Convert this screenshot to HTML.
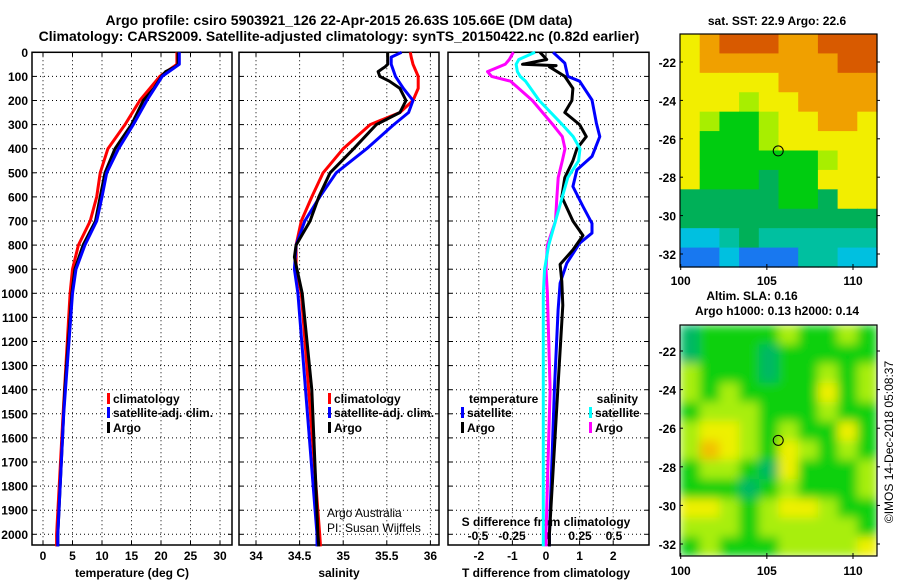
<!DOCTYPE html>
<html><head><meta charset="utf-8"><style>
html,body{margin:0;padding:0;background:#fff;}
svg{display:block;font-family:"Liberation Sans",Arial,sans-serif;}
.t{font-weight:bold;font-size:12px;fill:#000;}
.ttl{font-weight:bold;font-size:14px;fill:#000;}
</style></head><body>
<svg id="chart" width="900" height="580" viewBox="0 0 900 580">
<defs><filter id="blur" x="0" y="0" width="1" height="1"><feGaussianBlur stdDeviation="5"/></filter>
<clipPath id="clipm2"><rect x="680" y="325" width="197" height="231"/></clipPath></defs>
<text class="ttl" x="339" y="25" text-anchor="middle">Argo profile: csiro 5903921_126 22-Apr-2015 26.63S 105.66E (DM data)</text>
<text class="ttl" x="339" y="41" text-anchor="middle">Climatology: CARS2009. Satellite-adjusted climatology: synTS_20150422.nc (0.82d earlier)</text>
<g id="g"></g>
</svg>
<script>
// ---- depth levels & profile data ----
const depthT=[0,50,60,80,100,150,200,300,400,500,600,700,800,900,1000,1400,2000,2050];
const argoT=[22.9,22.9,22.4,20.8,20.1,18.8,17,15,12.2,10.5,9.7,8.9,6.8,5.4,4.9,3.7,2.5,2.5];
const depthC=[0,50,100,200,300,400,500,600,700,800,900,1000,1500,2000,2050];
const climT=[22.7,22.7,19.8,16.4,13.9,11,9.7,9.1,8,6,5,4.6,3.4,2.3,2.3];
const satT=[23.1,23.1,20.2,17.6,15.3,12.8,10.8,10,9.1,7.1,5.6,5,3.5,2.5,2.5];
const depthS=[0,50,60,80,100,120,150,200,250,300,400,500,600,700,800,850,900,1000,1400,2000,2050];
const argoS=[35.51,35.51,35.48,35.4,35.42,35.53,35.65,35.72,35.65,35.38,35.12,34.85,34.72,34.62,34.46,34.44,34.47,34.53,34.64,34.71,34.72];
const depthSC=[0,20,50,100,150,200,250,300,400,500,600,700,800,900,1000,2000,2050];
const climS=[35.77,35.78,35.8,35.86,35.86,35.8,35.65,35.31,35.0,34.77,34.64,34.52,34.46,34.46,34.52,34.73,34.74];
const satS=[35.67,35.55,35.55,35.6,35.69,35.8,35.75,35.58,35.27,34.92,34.73,34.56,34.46,34.44,34.48,34.7,34.7];
const depthDT=[0,45,100,120,198,294,350,432,488,557,640,710,750,792,875,958,1069,1400,2000,2050];
const satDT=[0.21,0.56,0.65,1.0,1.37,1.5,1.6,1.37,0.92,0.8,1.1,1.37,1.37,1.0,0.62,0.42,0.36,0.25,0.1,0.1];
const depthDA=[0,30,50,55,60,100,150,200,250,300,350,400,450,520,600,700,760,820,880,950,1050,1400,2000,2050];
const argoDT=[-0.18,0.02,-0.7,0.3,0.1,0.56,0.8,0.77,0.56,1.0,1.2,0.92,0.8,0.56,0.47,0.8,1.1,0.8,0.42,0.47,0.5,0.35,0.1,0.1];
const depthDS=[0,30,50,80,100,120,200,300,350,400,450,520,600,700,800,900,1000,1400,2000,2050];
const argoDS=[-0.24,-0.27,-0.3,-0.43,-0.4,-0.26,-0.1,0.05,0.12,0.14,0.12,0.09,0.08,0.07,0.01,0.0,0.01,0.03,0.0,0.0];
const satDS=[-0.08,-0.2,-0.22,-0.21,-0.19,-0.15,-0.05,0.12,0.2,0.25,0.24,0.16,0.12,0.07,0.02,-0.01,-0.02,-0.02,-0.02,-0.02];
const depthTicks=[0,100,200,300,400,500,600,700,800,900,1000,1100,1200,1300,1400,1500,1600,1700,1800,1900,2000];
const tTicks=[0,5,10,15,20,25,30];
const sTicks=[34,34.5,35,35.5,36];
const sTickLabels=["34","34.5","35","35.5","36"];
const dTTicks=[-2,-1,0,1,2];
const dSTicks=[-0.5,-0.25,0,0.25,0.5];
const dSTickLabels=["-0.5","-0.25","0","0.25","0.5"];
const latTicks=[-22,-24,-26,-28,-30,-32];
const lonTicks=[100,105,110];
const sstGrid=["YORRROORRR","YOOOOOOORR","YYYYYOOOOO","YYYLYYOOOO","YLGGLYYOOY","YGGGLYYYYY","YGGGGGGLYY","YGGGDGGYYY","DDDDDGGDYY","DDDDDDDDDD","CCTDTTTTTT","BBCBBBTTCC"];
const slaGrid=["DGGGGLGGLG","DGGGDGGGGG","LGGGDGGLGL","LGLGGGGYGL","GLLLGGGLGG","LYYLGLGGYG","LOYLGYLGLG","GLLGDYGGGL","GGGDGLGGGL","YYLGLYYLGG","LLLGLLLLLG","GLGGGLLLLY"];

const NS="http://www.w3.org/2000/svg";
const G=document.getElementById('g');
function el(tag,attrs,parent){const e=document.createElementNS(NS,tag);for(const k in attrs)e.setAttribute(k,attrs[k]);(parent||G).appendChild(e);return e;}
const Y0=52.3,KY=0.241,YB=545;
const yD=d=>Y0+d*KY;
const xT=t=>43+t*5.9;
const xS=s=>256+(s-34)*87.2;
const xDT=v=>546+v*33.6;
const xDS=v=>546+v*136;
const panels=[{x0:32,x1:232,name:'temperature-panel',gx:tTicks.map(xT)},{x0:239,x1:439,name:'salinity-panel',gx:sTicks.map(xS)},{x0:448,x1:649,name:'difference-panel',gx:dTTicks.map(xDT)}];
panels.forEach(p=>{
  const g=el('g',{});
  
  
  depthTicks.forEach(d=>{const y=yD(d);if(d>0)el('line',{x1:p.x0,x2:p.x1,y1:y,y2:y,stroke:'#000','stroke-width':1,'stroke-dasharray':'1,3'},g);
    el('line',{x1:p.x0,x2:p.x0+4,y1:y,y2:y,stroke:'#000'},g);el('line',{x1:p.x1-4,x2:p.x1,y1:y,y2:y,stroke:'#000'},g);});
  p.gx.forEach(x=>{el('line',{x1:x,x2:x,y1:Y0,y2:YB,stroke:'#000','stroke-width':1,'stroke-dasharray':'1,3'},g);
    el('line',{x1:x,x2:x,y1:YB-4,y2:YB,stroke:'#000'},g);el('line',{x1:x,x2:x,y1:Y0,y2:Y0+4,stroke:'#000'},g);});
  el('rect',{x:p.x0,y:Y0,width:p.x1-p.x0,height:YB-Y0,fill:'none',stroke:'#000','stroke-width':1.5},g);
});
depthTicks.forEach(d=>{const t=el('text',{x:28,y:yD(d)+4.5,'text-anchor':'end',class:'t'});t.textContent=d;
  
  });
function xlabels(vals,labels,fx,y,nm){vals.forEach((v,i)=>{const t=el('text',{x:fx(v),y:y,'text-anchor':'middle',class:'t'});t.textContent=labels[i];
  
  });}
xlabels(tTicks,tTicks.map(String),xT,560,'temperature-tick-label');
xlabels(sTicks,sTickLabels,xS,560,'salinity-tick-label');
xlabels(dTTicks,dTTicks.map(String),xDT,560,'t-diff-tick-label');
xlabels(dSTicks,dSTickLabels,xDS,540,'s-diff-tick-label');
function txt(x,y,s,nm,anchor,cls,extra){const t=el('text',Object.assign({x:x,y:y,'text-anchor':anchor||'start',class:cls||'t'},extra||{}));t.textContent=s;
  
  return t;}
txt(132,577,'temperature (deg C)','x-axis-title-temperature','middle');
txt(339,577,'salinity','x-axis-title-salinity','middle');
txt(546,577,'T difference from climatology','x-axis-title-t-diff','middle');
txt(546,526,'S difference from climatology','s-diff-axis-title','middle');
txt(327,517,'Argo Australia','credit-line-1','start','',{style:'font-weight:normal;font-size:12px'});
txt(327,532,'PI: Susan Wijffels','credit-line-2','start','',{style:'font-weight:normal;font-size:12px'});
function line(ds,vs,fx,color,nm){const pts=ds.map((d,i)=>fx(vs[i]).toFixed(1)+','+yD(d).toFixed(1)).join(' ');
  const p=el('polyline',{points:pts,fill:'none',stroke:color,'stroke-width':3,'stroke-linejoin':'round'});
  
  }
line(depthC,climT,xT,'#f00','temp-climatology-line');
line(depthT,argoT,xT,'#000','temp-argo-line');
line(depthC,satT,xT,'#00f','temp-satellite-line');
line(depthSC,climS,xS,'#f00','sal-climatology-line');
line(depthSC,satS,xS,'#00f','sal-satellite-line');
line(depthS,argoS,xS,'#000','sal-argo-line');
line(depthDT,satDT,xDT,'#00f','tdiff-satellite-line');
line(depthDA,argoDT,xDT,'#000','tdiff-argo-line');
line(depthDS,argoDS,xDS,'#f0f','sdiff-argo-line');
line(depthDS,satDS,xDS,'#0ff','sdiff-satellite-line');
function leg(x,y,c,s,nm){const r=el('rect',{x:x,y:y-10,width:3,height:11,fill:c});
  
  
  txt(x+6,y,s,nm);}
leg(107,403,'#f00','climatology','legend-temp-climatology');
leg(107,417,'#00f','satellite-adj. clim.','legend-temp-satellite');
leg(107,432,'#000','Argo','legend-temp-argo');
leg(328,403,'#f00','climatology','legend-sal-climatology');
leg(328,417,'#00f','satellite-adj. clim.','legend-sal-satellite');
leg(328,432,'#000','Argo','legend-sal-argo');
txt(469,403,'temperature','legend-temperature-header');
leg(461,417,'#00f','satellite','legend-tdiff-satellite');
leg(461,432,'#000','Argo','legend-tdiff-argo');
txt(638,403,'salinity','legend-salinity-header','end');
leg(589,417,'#0ff','satellite','legend-sdiff-satellite');
leg(589,432,'#f0f','Argo','legend-sdiff-argo');
// ---- maps ----
const sstCol={R:'#d85a00',O:'#f0a000',Y:'#f2ee00',L:'#a8ee00',G:'#00cc10',D:'#00b058',T:'#00c0a0',C:'#00c0e0',B:'#1878f0'};
const slaCol={D:'#00b864',G:'#10d010',L:'#a8ee10',Y:'#eef000',O:'#f2c000'};
function map(grid,cols,x0,y0,w,h,nm,blur){const g=el('g',{});
  
  
  const inner=el('g',blur?{filter:'url(#blur)'}:{},g);
  const nr=grid.length,nc=grid[0].length,cw=w/nc,ch=h/nr;
  grid.forEach((row,r)=>[...row].forEach((c,k)=>{el('rect',{x:x0+k*cw,y:y0+r*ch,width:cw+0.6,height:ch+0.6,fill:cols[c]},inner);}));
  return g;}
function mapAxes(x0,y0,w,h,ly0,ly1,lonY,nm){
  const fy=l=>ly0+(l-(-22))*(ly1-ly0)/(-10);
  const fx=l=>680.7+(l-100)*(853-680.7)/10;
  el('rect',{x:x0,y:y0,width:w,height:h,fill:'none',stroke:'#000','stroke-width':1.2});
  latTicks.forEach(l=>{const y=fy(l);el('line',{x1:x0+w,x2:x0+w+3,y1:y,y2:y,stroke:'#000'});el('line',{x1:x0,x2:x0+3,y1:y,y2:y,stroke:'#000'});
    txt(x0-4,y+5,String(l),nm+'-lat-label','end');});
  lonTicks.forEach(l=>{const x=fx(l);el('line',{x1:x,x2:x,y1:y0+h-3,y2:y0+h+3,stroke:'#000'});txt(x,lonY,String(l),nm+'-lon-label','middle');});
  const c=el('circle',{cx:fx(105.66),cy:fy(-26.63),r:5,fill:'none',stroke:'#000','stroke-width':1});
  
  }
map(sstGrid,sstCol,680,34,197,233,'sst-map',false);
mapAxes(680,34,197,233,62,254,285,'sst-map');
const m2=map(slaGrid,slaCol,680,325,197,231,'sla-map',true);m2.setAttribute('clip-path','url(#clipm2)');
mapAxes(680,325,197,231,351,544,575,'sla-map');
txt(777,25,'sat. SST: 22.9 Argo: 22.6','sst-map-title','middle');
txt(752,300,'Altim. SLA: 0.16','sla-map-title','middle');
txt(777,315,'Argo h1000: 0.13 h2000: 0.14','argo-height-title','middle');
txt(0,0,'©IMOS 14-Dec-2018 05:08:37','timestamp','middle','',{transform:'translate(893,442) rotate(-90)',style:'font-weight:normal;font-size:12px'});
</script>
</body></html>
